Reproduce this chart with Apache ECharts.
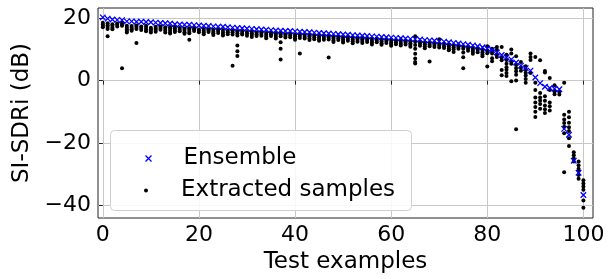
<!DOCTYPE html>
<html>
<head>
<meta charset="utf-8">
<script src="https://cdn.jsdelivr.net/npm/echarts@6/dist/echarts.min.js"></script>
<style>
html,body{margin:0;padding:0;background:#fff;}
#c{width:614px;height:279px;}
</style>
</head>
<body>
<div id="c"></div>
<script>
// ---- data ----
const xTicks = [0, 20, 40, 60, 80, 100];
const yTicks = [-40, -20, 0, 20];

// Ensemble SI-SDRi per test example (index 0..100)
const ensemble = [
  20.3, 19.9, 19.6, 19.5, 19.4, 19.0, 19.0, 18.9, 18.9, 18.8,
  18.7, 18.6, 18.5, 18.4, 18.3, 18.1, 18.0, 17.9, 17.9, 17.8,
  17.7, 17.6, 17.5, 17.4, 17.3, 17.3, 17.1, 17.0, 16.9, 16.8,
  16.7, 16.6, 16.5, 16.4, 16.3, 16.2, 16.1, 16.0, 15.9, 15.9,
  15.8, 15.7, 15.6, 15.5, 15.4, 15.3, 15.2, 15.1, 15.0, 14.9,
  14.8, 14.7, 14.6, 14.5, 14.4, 14.3, 14.2, 14.1, 14.0, 13.9,
  13.8, 13.7, 13.6, 13.5, 13.4, 13.3, 13.2, 13.0, 12.9, 12.8,
  12.6, 12.5, 12.3, 12.1, 11.9, 11.7, 11.5, 11.3, 11.0, 10.7,
  10.3, 9.8, 9.0, 8.2, 7.5, 6.8, 5.8, 4.8, 4.0, 3.2,
  1.0, -0.8, -2.0, -2.4, -2.6, -2.8, -15.5, -17.4, -25.7, -29.6,
  -36.7
];

// Extracted samples per test example (index 0..100)
const samples = [
  [18.6, 18.0, 17.5, 17.1],
  [18.4, 17.8, 17.2, 16.6, 14.2],
  [18.1, 17.6, 17.0, 16.5],
  [18.3, 17.9, 17.4],
  [18.6, 18.0, 17.6, 4.0],
  [17.6, 17.0, 16.4, 15.9, 15.4],
  [17.5, 17.0, 16.5, 16.0],
  [17.7, 17.2, 16.6, 12.1],
  [17.4, 16.9, 16.2],
  [17.6, 17.0, 16.3, 15.8],
  [17.0, 16.5, 16.0, 15.4],
  [17.3, 16.7, 16.2, 15.7],
  [17.4, 16.9, 16.3],
  [17.1, 16.6, 16.0, 15.4],
  [17.2, 16.8, 16.2, 15.6, 15.1],
  [17.3, 16.7, 16.1, 15.6],
  [16.9, 16.3, 15.8],
  [16.7, 16.2, 15.5, 15.0],
  [16.8, 16.3, 15.7, 15.2, 13.1],
  [16.9, 16.4, 15.9],
  [16.4, 16.0, 15.5],
  [16.6, 16.0, 15.4, 14.9],
  [16.5, 16.1, 15.6],
  [16.3, 15.7, 15.2, 14.6],
  [16.4, 15.9, 15.3],
  [16.2, 15.6, 15.0, 14.5],
  [16.0, 15.5, 14.9],
  [16.1, 15.5, 14.8, 4.8],
  [15.8, 15.2, 14.5, 11.3, 9.4, 7.9],
  [15.9, 15.3, 14.8],
  [15.6, 15.0, 14.4],
  [15.7, 15.2, 14.6, 14.0],
  [15.4, 14.9, 14.3],
  [15.6, 15.0, 14.4],
  [15.3, 14.7, 14.1, 13.6],
  [15.4, 14.9, 14.3],
  [15.2, 14.6, 14.0, 13.5],
  [15.4, 14.8, 14.2, 12.3, 10.2, 6.8],
  [14.9, 14.3, 13.8],
  [15.0, 14.5, 13.9],
  [14.8, 14.2, 13.6, 13.1],
  [14.9, 14.3, 13.7, 8.7],
  [14.6, 14.0, 13.5],
  [14.7, 14.2, 13.6, 13.0],
  [14.5, 13.9, 13.3],
  [14.6, 14.0, 13.4, 12.8],
  [14.3, 13.7, 13.1],
  [14.4, 13.8, 13.2, 7.4],
  [14.1, 13.5, 12.9, 12.4],
  [14.2, 13.6, 13.0],
  [13.9, 13.3, 12.7, 12.2],
  [14.0, 13.4, 12.8],
  [13.8, 13.2, 12.6, 12.0],
  [13.7, 13.1, 12.5],
  [13.9, 13.3, 12.7, 12.1],
  [13.6, 13.0, 12.4],
  [13.4, 12.8, 12.2, 11.6],
  [13.5, 12.9, 12.3],
  [13.2, 12.6, 12.0, 11.5],
  [13.3, 12.7, 12.1],
  [13.1, 12.4, 11.8, 11.2],
  [12.9, 12.3, 11.7],
  [13.0, 12.4, 11.8, 11.3],
  [12.8, 12.2, 11.6],
  [12.7, 12.0, 11.4, 10.9],
  [14.2, 12.5, 11.4, 10.2, 8.6, 7.1, 6.0, 5.5],
  [12.4, 11.8, 11.2],
  [12.2, 11.7, 11.0, 10.4],
  [12.3, 11.6, 11.0, 6.1],
  [12.0, 11.4, 10.8],
  [13.3, 11.9, 11.3, 10.6],
  [11.8, 11.1, 10.5],
  [11.6, 11.0, 10.3, 9.7],
  [11.3, 10.7, 10.1, 9.2],
  [11.4, 10.8, 10.2],
  [10.9, 10.2, 9.0, 7.5, 4.0],
  [10.8, 10.2, 9.6],
  [10.5, 9.9, 9.3, 8.6],
  [10.4, 9.8, 9.1],
  [10.0, 9.1, 8.4, 7.8],
  [11.0, 9.6, 8.8, 4.5],
  [10.2, 9.5, 8.7, 7.2, 6.2],
  [10.8, 9.9, 8.3, 7.6],
  [10.8, 7.4, 6.5, 3.4, 1.7],
  [8.3, 6.6, 5.4, 4.3, 3.5, 2.4, 1.5],
  [10.0, 8.7, 6.2, 5.4, -0.2],
  [7.8, 5.0, 4.0, 3.0, 1.9, 0.0, -15.6],
  [6.0, 4.1, 3.2],
  [4.6, 3.6, 2.5, 1.6, 0.5, -0.7],
  [8.7, 7.6, 6.6, 2.4],
  [7.6, -0.7, -3.0, -5.4, -7.0, -8.5, -10.0, -11.7],
  [6.5, -4.0, -5.4, -6.4, -7.5, -9.0],
  [3.1, 2.6, -5.0, -6.5, -8.0, -9.2, -10.4],
  [0.8, -3.0, -7.0, -8.2, -9.6],
  [-1.5, -3.5, -4.4],
  [-3.6, -4.5],
  [-0.7, -11.0, -12.5, -13.6, -14.8, -16.9, -29.4],
  [-10.0, -11.8, -13.5, -15.0, -16.2, -18.5, -21.0],
  [-23.0, -24.0, -25.0, -26.0],
  [-26.0, -27.2, -28.3, -29.0, -30.3, -31.5],
  [-32.0, -33.0, -34.0, -35.0, -38.5, -40.8]
];

// ---- build ----
const ensData = ensemble.map((v, i) => [i, v]);
const sampData = [];
samples.forEach((arr, i) => arr.forEach(v => sampData.push([i, v])));

const XPATH = 'path://M0,0L10,10M10,0L0,10';
const FONT = 'DejaVu Sans';

const chart = echarts.init(document.getElementById('c'), null, {renderer: 'canvas'});
chart.setOption({
  animation: false,
  backgroundColor: '#fff',
  textStyle: {fontFamily: FONT, color: '#000'},
  grid: {left: 98, right: 21, top: 8, bottom: 56, show: true, borderColor: '#222', borderWidth: 1, backgroundColor: 'transparent'},
  xAxis: {
    type: 'value', min: -1, max: 102,
    name: 'Test examples', nameLocation: 'middle', nameGap: 33,
    nameTextStyle: {fontFamily: FONT, fontSize: 23, color: '#000'},
    axisLine: {show: false},
    axisTick: {show: true, inside: false, length: 4, customValues: xTicks, lineStyle: {color: '#222', width: 1}},
    axisLabel: {customValues: xTicks, fontFamily: FONT, fontSize: 22, color: '#000', margin: 6},
    splitLine: {show: true, lineStyle: {color: '#c8c8c8', width: 1}}
  },
  yAxis: {
    type: 'value', min: -44.1, max: 23.3,
    name: 'SI-SDRi (dB)', nameLocation: 'middle', nameGap: 63,
    nameTextStyle: {fontFamily: FONT, fontSize: 23, color: '#000'},
    axisLine: {show: false},
    axisTick: {show: true, inside: false, length: 4, customValues: yTicks, lineStyle: {color: '#222', width: 1}},
    axisLabel: {customValues: yTicks, fontFamily: FONT, fontSize: 22, color: '#000', margin: 7,
      formatter: v => (v < 0 ? '\u2212' + Math.abs(v) : String(v))},
    splitLine: {show: true, lineStyle: {color: '#c8c8c8', width: 1}}
  },
  graphic: [{
    type: 'rect', left: 110, top: 130, z: 5,
    shape: {width: 301, height: 80, r: 4},
    style: {fill: 'rgba(255,255,255,0.85)', stroke: '#d0d0d0', lineWidth: 1}
  }],
  legend: [{
    data: [{name: 'Ensemble', icon: XPATH}],
    left: 138, top: 142, itemWidth: 6, itemHeight: 6, itemGap: 0, z: 6,
    textStyle: {fontFamily: FONT, fontSize: 23, color: '#000', padding: [0, 0, 0, 27]},
    itemStyle: {color: 'none', borderColor: '#0000ff', borderWidth: 1.3}
  }, {
    data: [{name: 'Extracted samples', icon: 'circle'}],
    left: 139, top: 174, itemWidth: 4, itemHeight: 4, itemGap: 0, z: 6,
    textStyle: {fontFamily: FONT, fontSize: 23, color: '#000', padding: [0, 0, 0, 28]},
    itemStyle: {color: '#000', borderWidth: 0}
  }],
  series: [{
    name: 'Ensemble', type: 'scatter', data: ensData, z: 3,
    symbol: XPATH, symbolSize: 5.5,
    itemStyle: {color: 'none', borderColor: '#0000ff', borderWidth: 1.3, opacity: 1}
  }, {
    name: 'Extracted samples', type: 'scatter', data: sampData, z: 2,
    symbol: 'circle', symbolSize: 4,
    itemStyle: {color: '#000', borderWidth: 0, opacity: 1}
  }]
});
</script>
</body>
</html>
